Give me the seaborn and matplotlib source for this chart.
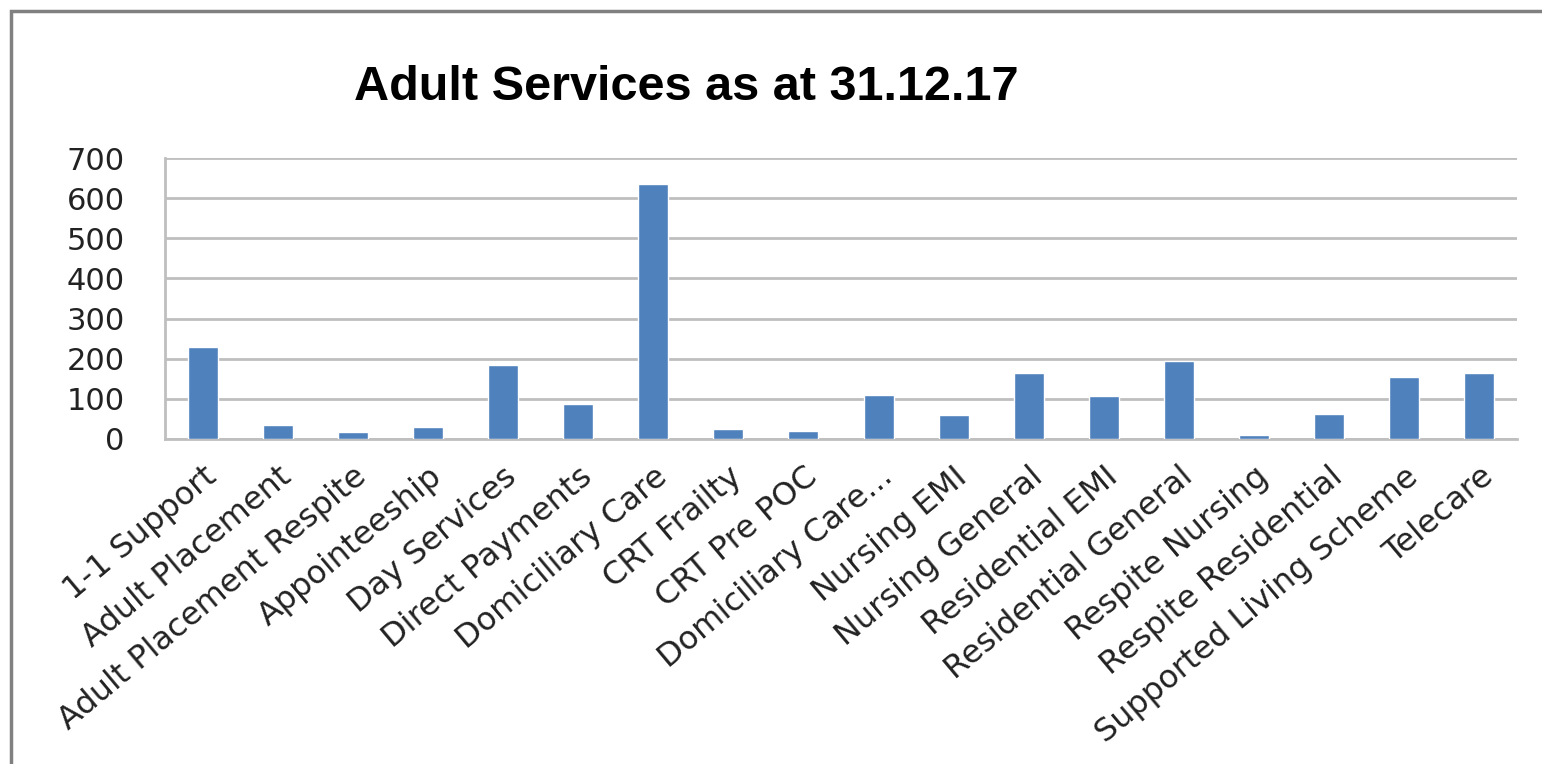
import matplotlib
matplotlib.use("Agg")
import matplotlib.pyplot as plt
import seaborn as sns
import pandas as pd
from matplotlib.patches import Rectangle

categories = ["1-1 Support", "Adult Placement", "Adult Placement Respite", "Appointeeship",
              "Day Services", "Direct Payments", "Domiciliary Care", "CRT Frailty",
              "CRT Pre POC", "Domiciliary Care...", "Nursing EMI", "Nursing General",
              "Residential EMI", "Residential General", "Respite Nursing",
              "Respite Residential", "Supported Living Scheme", "Telecare"]
values = [230, 34, 17, 30, 185, 88, 635, 26, 21, 109, 59, 164, 106, 194, 9, 63, 155, 164]
y_ticks = [0, 100, 200, 300, 400, 500, 600, 700]
title = "Adult Services as at 31.12.17"

sns.set_theme(style="white")
plt.rcParams['font.family'] = ['DejaVu Sans']

df = pd.DataFrame({"category": categories, "value": values})

fig = plt.figure(figsize=(15.42, 7.64), dpi=100)
ax = fig.add_axes([165/1542, 1-439/764, (1517-165)/1542, (439-158)/764])

sns.barplot(data=df, x="category", y="value", color="#4F81BD", saturation=1,
            width=0.4, ax=ax, zorder=3)

ax.set_ylim(0, 700)
ax.set_yticks(y_ticks)
ax.set_yticklabels([str(t) for t in y_ticks], fontsize=22, color="#222222")
ax.tick_params(axis="y", length=0, pad=29)
ax.tick_params(axis="x", length=0, pad=16)
ax.set_xlim(-0.5, len(categories) - 0.5)
ax.set_xticks(range(len(categories)))
ax.set_xticklabels(categories, rotation=40, ha="right", rotation_mode="anchor",
                   fontsize=23, color="#222222")
ax.set_xlabel("")
ax.set_ylabel("")
ax.yaxis.grid(True, color="#bfbfbf", linewidth=2, zorder=0)
ax.set_axisbelow(True)
for s in ["top", "right"]:
    ax.spines[s].set_visible(False)
for s in ["left", "bottom"]:
    ax.spines[s].set_color("#bfbfbf")
    ax.spines[s].set_linewidth(2)

fig.text(686/1542, 1-88/764, title, ha="center", va="center", fontsize=35,
         fontweight="bold", family=["Liberation Sans", "DejaVu Sans"], color="black")

border = Rectangle((11/1542, -0.1), 1.2, 1 - 11/764 + 0.1, transform=fig.transFigure,
                   fill=False, edgecolor="#808080", linewidth=2.5)
fig.patches.append(border)

fig.savefig("out.png", dpi=100, facecolor="white")
